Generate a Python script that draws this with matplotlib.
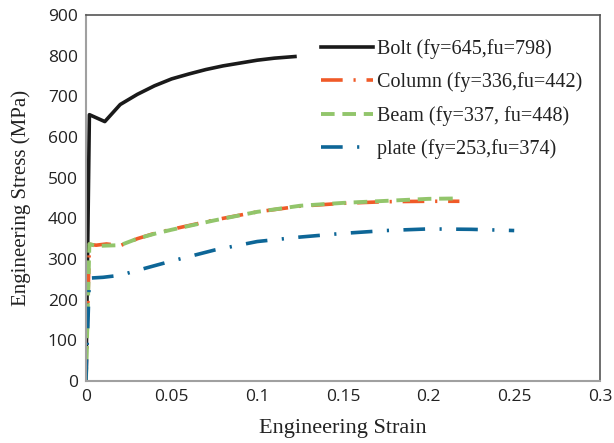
import matplotlib.pyplot as plt

bolt_x = [0, 0.002, 0.011, 0.02, 0.03, 0.04, 0.05, 0.06, 0.07, 0.08, 0.09, 0.1, 0.11, 0.122]
bolt_y = [0, 655, 638, 680, 705, 726, 743, 755, 766, 775, 782, 789, 794, 798]

column_x = [0, 0.002, 0.006, 0.012, 0.02, 0.03, 0.04, 0.05, 0.075, 0.1, 0.125, 0.15, 0.175, 0.2, 0.218]
column_y = [0, 336, 334, 337, 333, 350, 363, 373, 396, 416, 430, 437, 441, 442, 442]

beam_x = [0, 0.002, 0.006, 0.012, 0.02, 0.03, 0.04, 0.05, 0.075, 0.1, 0.125, 0.15, 0.175, 0.2, 0.218]
beam_y = [0, 337, 332, 333, 334, 350, 362, 372, 395, 416, 431, 438, 443, 448, 449]

plate_x = [0, 0.002, 0.01, 0.02, 0.03, 0.05, 0.075, 0.1, 0.125, 0.15, 0.175, 0.2, 0.225, 0.25]
plate_y = [0, 253, 255, 260, 272, 295, 322, 343, 354, 363, 370, 374, 373, 370]

labels = ['Bolt (fy=645,fu=798)', 'Column (fy=336,fu=442)',
          'Beam (fy=337, fu=448)', 'plate (fy=253,fu=374)']

fig, ax = plt.subplots(figsize=(6.14, 4.43), dpi=100)
fig.subplots_adjust(left=0.14, right=0.977, top=0.966, bottom=0.14)

ax.plot(bolt_x, bolt_y, color='#1a1a1a', lw=2.6, label=labels[0])
ax.plot(column_x, column_y, color='#f05a28', lw=2.6, dashes=(6, 3, 0.6, 3), label=labels[1])
ax.plot(beam_x, beam_y, color='#92c56b', lw=2.8, dashes=(3.5, 2), label=labels[2])
ax.plot(plate_x, plate_y, color='#0d6697', lw=2.6, dashes=(6, 4, 0.6, 4), label=labels[3])

ax.set_xlim(0, 0.3)
ax.set_ylim(0, 900)
ax.set_xticks([0, 0.05, 0.1, 0.15, 0.2, 0.25, 0.3])
ax.set_xticklabels(['0', '0.05', '0.1', '0.15', '0.2', '0.25', '0.3'])
ax.set_yticks(range(0, 901, 100))
ax.tick_params(length=0, labelsize=12.5, pad=6)
for t in ax.get_xticklabels() + ax.get_yticklabels():
    t.set_fontfamily('Open Sans')
    t.set_color('#222222')

for s in ['left', 'bottom']:
    ax.spines[s].set_color('#a0a0a0')
    ax.spines[s].set_linewidth(1.5)
for s in ['top', 'right']:
    ax.spines[s].set_color('#555555')
    ax.spines[s].set_linewidth(1.2)

ax.set_xlabel('Engineering Strain', fontfamily='Liberation Serif', fontsize=16,
              color='#222222', labelpad=10)
ax.set_ylabel('Engineering Stress (MPa)', fontfamily='Liberation Serif', fontsize=15,
              color='#222222', labelpad=12)

ax.legend(loc='upper left', bbox_to_anchor=(0.422, 0.985), frameon=False,
          prop={'family': 'Liberation Serif', 'size': 14.5}, handlelength=2.6,
          handletextpad=0.2, labelspacing=0.68, labelcolor='#222222')

fig.savefig('out.png')
